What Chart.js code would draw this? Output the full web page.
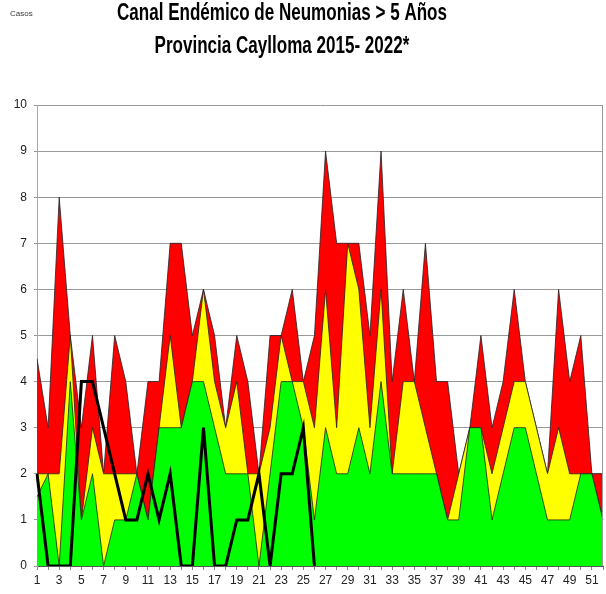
<!DOCTYPE html>
<html lang="es">
<head>
  <meta charset="UTF-8" />
  <title>Canal Endémico de Neumonias > 5 Años</title>
  <script src="https://cdn.jsdelivr.net/npm/chart.js"></script>
  <style>
    html, body {
      margin: 0;
      padding: 0;
      background: #fff;
    }
    #wrap {
      width: 606px;
      height: 594px;
      position: relative;
    }
  </style>
</head>
<body>
  <div id="wrap">
    <canvas id="canal" width="606" height="594"></canvas>
  </div>

  <script>
    // Semanas epidemiológicas
    const semanas = ["1","2","3","4","5","6","7","8","9","10","11","12","13","14","15","16","17","18","19","20",
      "21","22","23","24","25","26","27","28","29","30","31","32","33","34","35","36","37","38","39","40",
      "41","42","43","44","45","46","47","48","49","50","51","52"];

    // Zona de epidemia (tope rojo)
    const epidemia = [4.5,3,8,5,3,5,2,5,4,2,4,4,7,7,5,6,5,3,5,4,2,5,5,6,4,5,9,7,7,7,5,9,4,6,4,7,4,4,2,3,
      5,3,4,6,4,3,2,6,4,5,2,2];
    // Zona de alarma (tope amarillo)
    const alarma = [2,2,2,5,1,3,2,2,2,2,1,3,5,3,4,6,4,3,4,2,2,3,5,4,4,3,6,3,7,6,3,6,2,4,4,3,2,1,2,3,
      3,2,3,4,4,3,2,3,2,2,2,1];
    // Zona de seguridad (tope verde)
    const seguridad = [1.5,2,0,4,1,2,0,1,1,2,1,3,3,3,4,4,3,2,2,2,0,2,4,4,3,1,3,2,2,3,2,4,2,2,2,2,2,1,1,3,
      3,1,2,3,3,2,1,1,1,2,2,1];
    // Casos 2022
    const casos2022 = [2,0,0,0,4,4,3,2,1,1,2,1,2,0,0,3,0,0,1,1,2,0,2,2,3,0];

    const yTicks = [0,1,2,3,4,5,6,7,8,9,10];

    // titulo (letra angosta), "Casos" y borde derecho
    const extras = {
      id: "extras",
      afterDraw(chart) {
        const ctx = chart.ctx;
        const a = chart.chartArea;
        ctx.save();
        ctx.strokeStyle = "#999";
        ctx.lineWidth = 1;
        ctx.beginPath();
        ctx.moveTo(a.right - 0.5, a.top);
        ctx.lineTo(a.right - 0.5, a.bottom);
        ctx.stroke();

        ctx.fillStyle = "#000";
        ctx.textAlign = "center";
        ctx.textBaseline = "middle";
        ctx.font = "bold 24px 'Liberation Sans', Arial, sans-serif";
        const k = 0.71;
        ctx.save();
        ctx.scale(k, 1);
        ctx.fillText("Canal Endémico de Neumonias > 5 Años", 282 / k, 13);
        ctx.fillText("Provincia Caylloma 2015- 2022*", 282 / k, 46);
        ctx.restore();

        ctx.textAlign = "left";
        ctx.font = "8px 'Liberation Sans', sans-serif";
        ctx.fillStyle = "#333";
        ctx.fillText("Casos", 10, 14);
        ctx.restore();
      }
    };

    const area = (label, data, color, order) => ({
      label: label,
      data: data,
      backgroundColor: color,
      borderColor: "#222",
      borderWidth: 0.8,
      pointRadius: 0,
      tension: 0,
      fill: "origin",
      order: order
    });

    new Chart(document.getElementById("canal"), {
      type: "line",
      data: {
        labels: semanas,
        datasets: [
          {
            label: "2022",
            data: casos2022,
            borderColor: "#000",
            borderWidth: 3,
            pointRadius: 0,
            tension: 0,
            fill: false,
            order: 0
          },
          area("Seguridad", seguridad, "#00ff00", 1),
          area("Alarma", alarma, "#ffff00", 2),
          area("Epidemia", epidemia, "#ff0000", 3)
        ]
      },
      options: {
        responsive: false,
        animation: false,
        layout: { padding: { top: 105, right: 2, left: 0, bottom: 0 } },
        plugins: {
          legend: { display: false },
          title: { display: false },
          tooltip: { enabled: false }
        },
        scales: {
          x: {
            offset: false,
            afterFit: s => { s.height = 28; },
            grid: {
              drawOnChartArea: false,
              drawTicks: true,
              tickLength: 4,
              color: "#888"
            },
            border: { color: "#555", width: 1 },
            ticks: {
              autoSkip: false,
              maxRotation: 0,
              padding: 3,
              color: "#222",
              font: { family: "'Liberation Sans', sans-serif", size: 12 },
              callback: function (v, i) { return i % 2 === 0 ? semanas[i] : ""; }
            }
          },
          y: {
            min: 0,
            max: 10,
            afterFit: s => { s.width = 37; },
            afterBuildTicks: s => { s.ticks = yTicks.map(v => ({ value: v })); },
            grid: {
              color: "#999",
              lineWidth: 1,
              tickLength: 3
            },
            border: { color: "#aaa", width: 1 },
            ticks: {
              padding: 7,
              color: "#222",
              font: { family: "'Liberation Sans', sans-serif", size: 12 }
            }
          }
        }
      },
      plugins: [extras]
    });
  </script>
</body>
</html>
